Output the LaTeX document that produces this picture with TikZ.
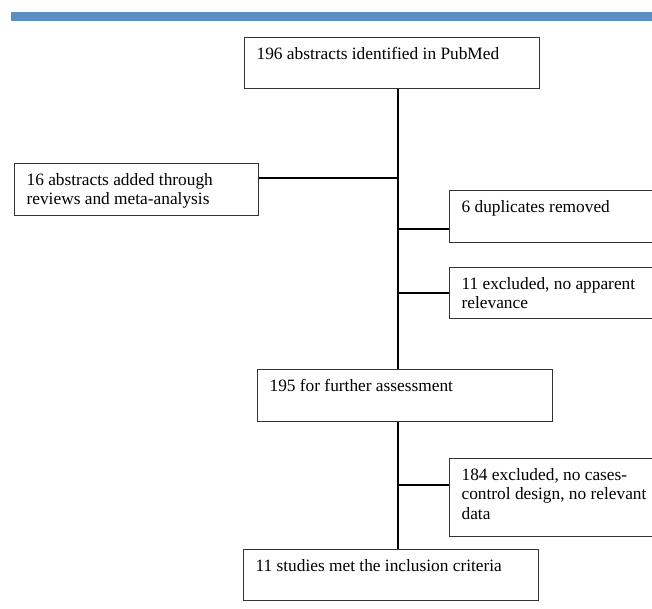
\documentclass[tikz,border=0pt]{standalone}
\usepackage{fontspec}
\setmainfont{Liberation Serif}
\definecolor{barblue}{RGB}{91,143,195}
\newcommand{\boxtext}[3]{\parbox[t][#2][t]{#1}{\raggedright\vspace*{6.3pt}\strut #3}}
\begin{document}
\begin{tikzpicture}[x=0.75pt, y=-0.75pt,
  box/.style={draw=black!80, line width=0.9pt, rectangle, anchor=north west,
    inner xsep=9pt, inner ysep=0pt, font=\fontsize{13}{14.5}\selectfont},
  link/.style={draw=black, line width=0.9pt}]
\useasboundingbox (0,0) rectangle (652,608);
\clip (0,0) rectangle (652,608);
\fill[barblue] (11,11.7) rectangle (652,20.7);
\coordinate (sp) at (398,0);
\node[box] (b1) at (244,37) {\boxtext{203.25pt}{38.25pt}{196 abstracts identified in PubMed}};
\node[box] (left) at (14,163) {\boxtext{165pt}{39pt}{16 abstracts added through\\reviews and meta-analysis}};
\node[box] (dup) at (449,190) {\boxtext{169.5pt}{39pt}{6 duplicates removed}};
\node[box] (ex11) at (449,267) {\boxtext{169.5pt}{38.25pt}{11 excluded, no apparent\\relevance}};
\node[box] (b195) at (257,369) {\boxtext{203.25pt}{39pt}{195 for further assessment}};
\node[box] (ex184) at (449,458) {\boxtext{169.5pt}{58.5pt}{184 excluded, no cases-\\control design, no relevant\\data}};
\node[box] (b11) at (243,549) {\boxtext{203.25pt}{38.25pt}{11 studies met the inclusion criteria}};
\coordinate (lj) at ([yshift=-11.25pt]left.north east);
\coordinate (dj) at ([yshift=-29.25pt]dup.north west);
\coordinate (ej) at ([yshift=-19.5pt]ex11.north west);
\coordinate (fj) at ([yshift=-20.25pt]ex184.north west);
\draw[link] (b1.south -| sp) -- (b195.north -| sp);
\draw[link] (b195.south -| sp) -- (b11.north -| sp);
\draw[link] (lj) -- (lj -| sp);
\draw[link] (dj -| sp) -- (dj);
\draw[link] (ej -| sp) -- (ej);
\draw[link] (fj -| sp) -- (fj);
\end{tikzpicture}
\end{document}
